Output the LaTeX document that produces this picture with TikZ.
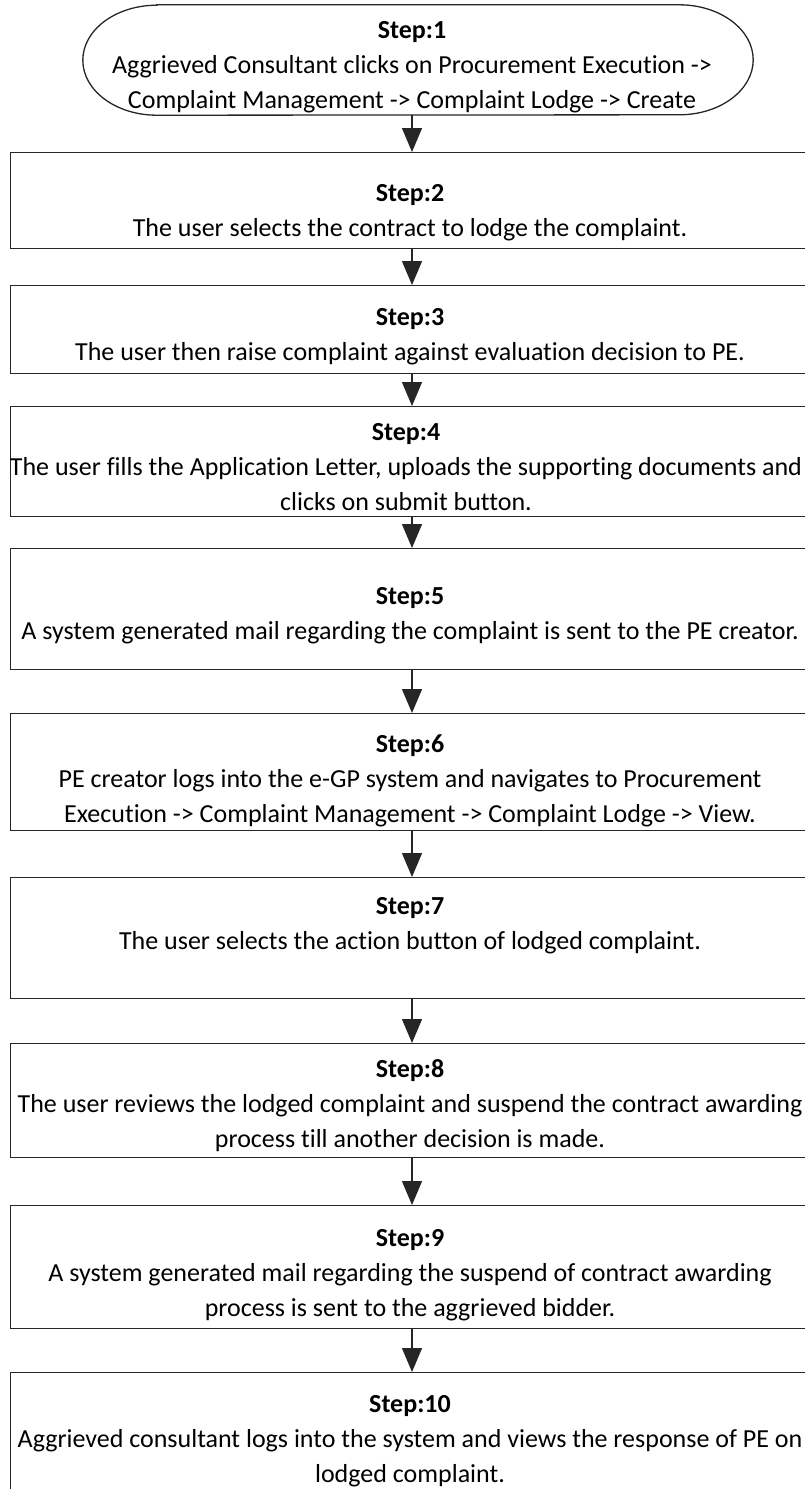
\documentclass[tikz,border=0pt]{standalone}
\usepackage{fontspec}
\setmainfont{Carlito}[Ligatures={NoCommon}]
\usetikzlibrary{arrows.meta}
\begin{document}
\begin{tikzpicture}[x=1pt,y=-1pt,
  boxline/.style={draw=black!85, line width=1.3pt},
  stepbox/.style={boxline, rectangle, minimum width=806pt, inner sep=0pt, anchor=north west},
  steptext/.style={align=center, font=\fontsize{26}{35}\selectfont, inner sep=0pt},
  flow/.style={boxline, -{Triangle[length=24pt,width=20pt]}},
]
\useasboundingbox (0,0) rectangle (805,1489);
\clip (0,0) rectangle (805,1489);

% start terminator: straight top and bottom with half-elliptic ends
\node (s1) [minimum width=522pt, minimum height=110pt, inner sep=0pt] at (418,60) {};
\draw[boxline] (s1.north west) -- (s1.north east)
  arc[start angle=90, end angle=-90, x radius=74pt, y radius=55pt]
  -- (s1.south west)
  arc[start angle=270, end angle=90, x radius=74pt, y radius=55pt] -- cycle;
\node[steptext] (t1) at (412,67) {\textbf{Step:1}\\Aggrieved Consultant clicks on Procurement Execution ->\\Complaint Management -> Complaint Lodge -> Create};

% process boxes
\node[stepbox, minimum height=96pt]  (s2)  at (10,152)  {};
\node[stepbox, minimum height=88pt]  (s3)  at (10,285)  {};
\node[stepbox, minimum height=110pt] (s4)  at (10,406)  {};
\node[stepbox, minimum height=121pt] (s5)  at (10,548)  {};
\node[stepbox, minimum height=117pt] (s6)  at (10,713)  {};
\node[stepbox, minimum height=121pt] (s7)  at (10,877)  {};
\node[stepbox, minimum height=114pt] (s8)  at (10,1043) {};
\node[stepbox, minimum height=123pt] (s9)  at (10,1205) {};
\node[stepbox, minimum height=140pt] (s10) at (10,1372) {};

\node[steptext] (t2)  at (410,213)  {\textbf{Step:2}\\The user selects the contract to lodge the complaint.};
\node[steptext] (t3)  at (410,337)  {\textbf{Step:3}\\The user then raise complaint against evaluation decision to PE.};
\node[steptext] (t4)  at (406,467)  {\textbf{Step:4}\\The user fills the Application Letter, uploads the supporting documents and\\clicks on submit button.};
\node[steptext] (t5)  at (410,616)  {\textbf{Step:5}\\A system generated mail regarding the complaint is sent to the PE creator.};
\node[steptext] (t6)  at (410,781)  {\textbf{Step:6}\\PE creator logs into the e-GP system and navigates to Procurement\\Execution -> Complaint Management -> Complaint Lodge -> View.};
\node[steptext] (t7)  at (410,926)  {\textbf{Step:7}\\The user selects the action button of lodged complaint.};
\node[steptext] (t8)  at (410,1106) {\textbf{Step:8}\\The user reviews the lodged complaint and suspend the contract awarding\\process till another decision is made.};
\node[steptext] (t9)  at (410,1275) {\textbf{Step:9}\\A system generated mail regarding the suspend of contract awarding\\process is sent to the aggrieved bidder.};
\node[steptext] (t10) at (410,1441) {\textbf{Step:10}\\Aggrieved consultant logs into the system and views the response of PE on\\lodged complaint.};

% connectors
\coordinate (ax) at (412,0);
\draw[flow] (s1.south -| ax) -- (s2.north -| ax);
\draw[flow] (s2.south -| ax) -- (s3.north -| ax);
\draw[flow] (s3.south -| ax) -- (s4.north -| ax);
\draw[flow] (s4.south -| ax) -- (s5.north -| ax);
\draw[flow] (s5.south -| ax) -- (s6.north -| ax);
\draw[flow] (s6.south -| ax) -- (s7.north -| ax);
\draw[flow] (s7.south -| ax) -- (s8.north -| ax);
\draw[flow] (s8.south -| ax) -- (s9.north -| ax);
\draw[flow] (s9.south -| ax) -- (s10.north -| ax);
\end{tikzpicture}
\end{document}
